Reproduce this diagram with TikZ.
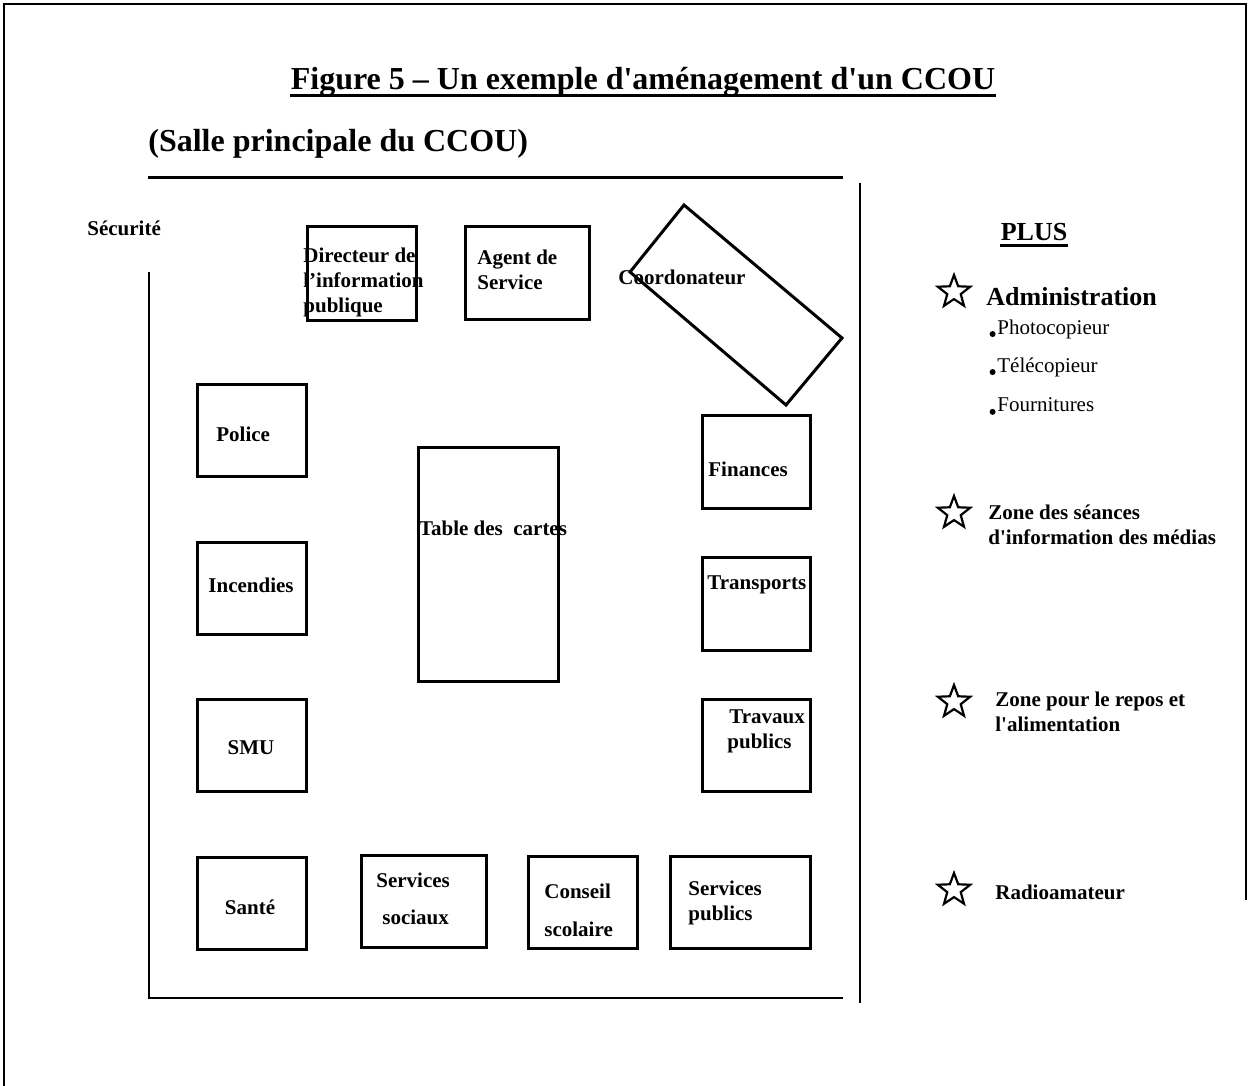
\documentclass[tikz,border=0pt]{standalone}
\usepackage{fontspec}
\setmainfont{Liberation Serif}[Ligatures=TeXOff]
\usetikzlibrary{shapes.geometric,calc}

\begin{document}
\begin{tikzpicture}[x=0.5pt, y=-0.5pt,
  box/.style={line width=1.5pt},
  wall/.style={line width=1pt},
  lbl/.style={font=\fontsize{10.5}{12.5}\selectfont\bfseries, inner sep=0pt, align=left},
  big/.style={font=\fontsize{16}{19}\selectfont\bfseries, inner sep=0pt},
  item/.style={font=\fontsize{10.5}{12.5}\selectfont, inner sep=0pt},
  starmark/.style={star, star points=5, star point ratio=2.4, draw, line width=1.1pt, minimum size=17pt, inner sep=0pt}]
  \useasboundingbox (0,0) rectangle (1248,1086);

  % page frame
  \draw[wall] (4,1086) -- (4,4) -- (1246,4) -- (1246,900);

  % titles
  \node[big] (title) at (643,82) {Figure 5 – Un exemple d'aménagement d'un CCOU};
  \draw[line width=1.6pt] ([yshift=-3pt]title.base west) -- ([yshift=-3pt]title.base east);
  \node[big, anchor=west] (salle) at (148,144) {(Salle principale du CCOU)};

  % walls of the room
  \draw[wall, line width=1.5pt] (148,178) -- (843,178);
  \draw[wall] (860,183) -- (860,1003);
  \draw[wall] (149,272) -- (149,998) -- (843,998);
  \node[lbl, anchor=west] (secu) at (87,228) {Sécurité};

  % top row
  \draw[box] (307,226) rectangle (416,320);
  \node[lbl, anchor=west] (dir) at (303,282) {Directeur de\\l’information\\publique};
  \draw[box] (465,226) rectangle (589,319);
  \node[lbl, anchor=west] (agent) at (477,270) {Agent de\\Service};
  \draw[box] (684,205) -- (842,338) -- (786,405) -- (630,272) -- cycle;
  \node[lbl, anchor=west] (coord) at (618,277) {Coordonateur};

  % left column
  \draw[box] (197,384) rectangle (306,476);
  \node[lbl, anchor=west] (police) at (216,434) {Police};
  \draw[box] (197,542) rectangle (306,634);
  \node[lbl] (incendies) at (251,585) {Incendies};
  \draw[box] (197,699) rectangle (306,791);
  \node[lbl] (smu) at (251,748) {SMU};
  \draw[box] (197,857) rectangle (306,949);
  \node[lbl] (sante) at (250,907) {Santé};

  % map table
  \draw[box] (418,447) rectangle (558,681);
  \node[lbl] (table) at (493,528) {Table des~ cartes};

  % right column
  \draw[box] (702,415) rectangle (810,508);
  \node[lbl, anchor=west] (finances) at (708,469) {Finances};
  \draw[box] (702,557) rectangle (810,650);
  \node[lbl, anchor=west] (transports) at (707,585) {Transports};
  \draw[box] (702,699) rectangle (810,791);
  \node[lbl, anchor=west] (travaux) at (727,731) {\hspace*{1pt}Travaux\\publics};

  % bottom row
  \draw[box] (361,855) rectangle (486,947);
  \node[lbl, anchor=west] (sociaux) at (376,899) {Services\\[6pt]\hspace*{3pt}sociaux};
  \draw[box] (528,856) rectangle (637,948);
  \node[lbl, anchor=west] (conseil) at (544,910) {Conseil\\[6.5pt]scolaire};
  \draw[box] (670,856) rectangle (810,948);
  \node[lbl, anchor=west] (spublics) at (688,903) {Services\\publics};

  % extras
  \node[font=\fontsize{13}{15}\selectfont\bfseries, inner sep=0pt] (plus) at (1034,232) {PLUS};
  \draw[line width=1.3pt] ([yshift=-2.5pt]plus.base west) -- ([yshift=-2.5pt]plus.base east);

  \node[starmark] (s1) at (954,292) {};
  \node[font=\fontsize{13}{15}\selectfont\bfseries, inner sep=0pt, anchor=west] (admin) at (986,297) {Administration};
  \node[item, anchor=west] (photo) at (997,329) {Photocopieur};
  \node[item, anchor=west] (tele) at (997,367) {Télécopieur};
  \node[item, anchor=west] (fourn) at (997,405) {Fournitures};
  \fill ([xshift=-2.2pt]photo.base west) circle (3);
  \fill ([xshift=-2.2pt]tele.base west) circle (3);
  \fill ([xshift=-2.2pt]fourn.base west) circle (3);

  \node[starmark] (s2) at (954,513) {};
  \node[lbl, anchor=west] (media) at (988,525) {Zone des séances\\d'information des médias};
  \node[starmark] (s3) at (954,702) {};
  \node[lbl, anchor=west] (repos) at (995,712) {Zone pour le repos et\\l'alimentation};
  \node[starmark] (s4) at (954,890) {};
  \node[lbl, anchor=west] (radio) at (995,892) {Radioamateur};
\end{tikzpicture}
\end{document}
